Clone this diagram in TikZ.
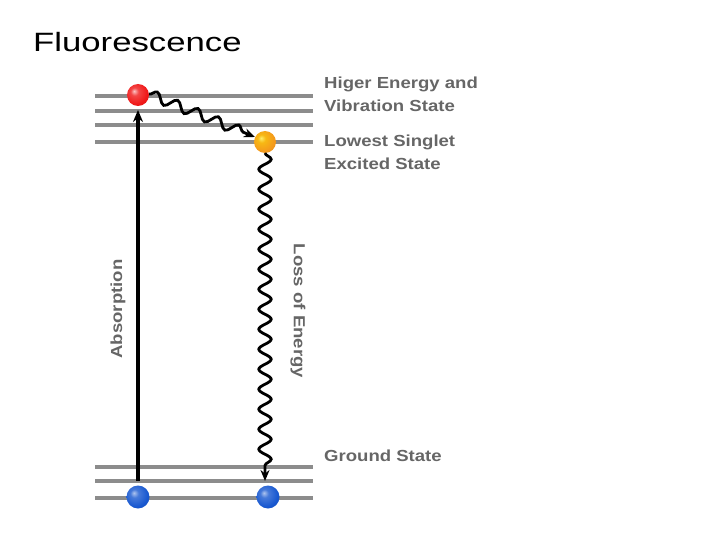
\documentclass[tikz,border=0pt]{standalone}
\usepackage{fontspec}
\setmainfont{Liberation Sans}
\usetikzlibrary{arrows.meta,decorations.pathmorphing,shadings}
\definecolor{lvl}{HTML}{8C8C8C}
\definecolor{lbl}{HTML}{666666}
\definecolor{bred}{HTML}{F01818}
\definecolor{borange}{HTML}{F49A1C}
\definecolor{bblue}{HTML}{1858D0}
\pgfdeclareradialshading{redball}{\pgfpoint{-9bp}{9bp}}{color(0bp)=(bred!25!white); color(9bp)=(bred!80!white); color(26bp)=(bred); color(48bp)=(bred!85!black); color(64bp)=(bred!70!black)}
\pgfdeclareradialshading{orangeball}{\pgfpoint{-9bp}{9bp}}{color(0bp)=(borange!30!yellow!60!white); color(9bp)=(borange!70!yellow); color(26bp)=(borange); color(48bp)=(borange!88!black); color(64bp)=(borange!75!black)}
\pgfdeclareradialshading{blueball}{\pgfpoint{-9bp}{9bp}}{color(0bp)=(bblue!35!white); color(9bp)=(bblue!80!white); color(26bp)=(bblue); color(48bp)=(bblue!85!black); color(64bp)=(bblue!70!black)}
\newcommand{\lbltxt}[1]{\scalebox{1.16}[1]{\fontsize{16}{19}\selectfont\bfseries #1}}
\tikzset{
  level/.style={draw=lvl, line width=4.2pt},
  ballnode/.style={circle, inner sep=0pt, minimum size=22pt},
  label/.style={text=lbl, inner sep=0pt, anchor=base west},
  wave/.style={draw=black, line width=2.8pt, decorate,
    decoration={snake, segment length=20pt, amplitude=6.2pt, post length=9pt},
    -{Stealth[length=11pt,width=9pt]}},
  absorb/.style={draw=black, line width=3.2pt, -{Stealth[length=12pt,width=10pt]}}
}
\begin{document}
\begin{tikzpicture}[x=1pt,y=-1pt]
\useasboundingbox (0,0) rectangle (720,540);
% title
\node[anchor=base west, inner sep=0pt] (title) at (33,52)
  {\scalebox{1.31}[1]{\fontsize{26.5}{30}\selectfont Fluorescence}};
% energy levels
\foreach \yy/\nm in {96/u1,111/u2,125/u3,142/u4,467/g1,481/g2,498/g3}{
  \coordinate (\nm L) at (95,\yy);
  \coordinate (\nm R) at (313,\yy);
  \draw[level] (\nm L) -- (\nm R);
}
% absorption arrow
\coordinate (absbot) at (138,481);
\coordinate (abstop) at (138,110);
\draw[absorb] (absbot) -- (abstop);
% balls
\node[ballnode, shading=redball] (red) at (138,95) {};
\node[ballnode, shading=orangeball] (orange) at (265,142) {};
\node[ballnode, shading=blueball, minimum size=23pt] (blue1) at (138,497) {};
\node[ballnode, shading=blueball, minimum size=23pt] (blue2) at (268,497) {};
% wavy relaxation
\coordinate (wstart) at (149,94);
\coordinate (wend) at (255,137);
\draw[wave, decoration={snake, segment length=22pt, amplitude=5pt, post length=9pt}] (wstart) -- (wend);
\coordinate (lstart) at (265,153);
\coordinate (lend) at (265,481);
\draw[wave] (lstart) -- (lend);
% labels
\node[label] (l1) at (324,89) {\lbltxt{Higer Energy and}};
\node[label] (l2) at (324,112) {\lbltxt{Vibration State}};
\node[label] (l3) at (324,147) {\lbltxt{Lowest Singlet}};
\node[label] (l4) at (324,170) {\lbltxt{Excited State}};
\node[label] (l5) at (324,461) {\lbltxt{Ground State}};
\node[text=lbl, inner sep=0pt, rotate=90] (abs) at (118,309) {\lbltxt{Absorption}};
\node[text=lbl, inner sep=0pt, rotate=-90] (loss) at (298,311) {\lbltxt{Loss of Energy}};
\end{tikzpicture}
\end{document}
